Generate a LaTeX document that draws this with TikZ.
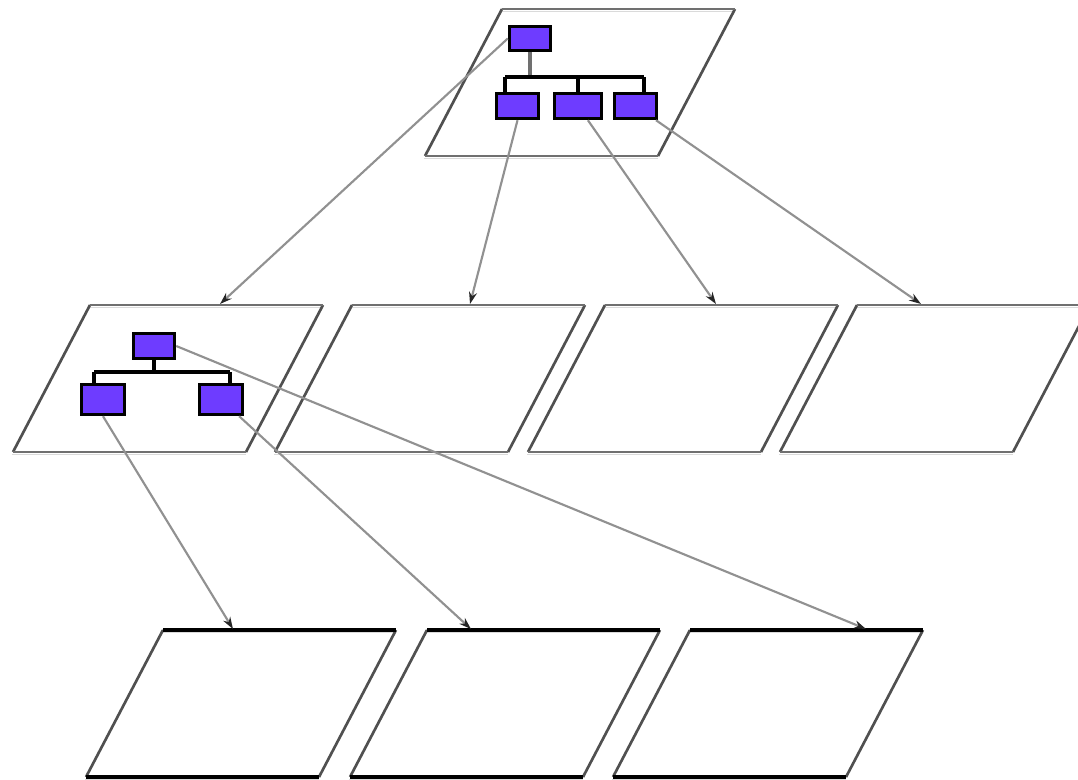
\documentclass[tikz,border=0pt]{standalone}
\usetikzlibrary{arrows.meta}
\definecolor{boxfill}{RGB}{110,60,255}
\definecolor{edgegray}{RGB}{112,112,112}
\definecolor{edgelight}{RGB}{218,218,218}
\definecolor{sidegray}{RGB}{80,80,80}
\definecolor{arrowgray}{RGB}{145,145,145}
\newcommand\myplane[3]{%
  \draw[lightedge] ({#1-1},{#2+2.6}) -- ({#1+233},{#2+2.6});
  \draw[lightedge] ({#1-78},{#2+149.6}) -- ({#1+156},{#2+149.6});
  \draw[sideline] (#1,#2) -- ({#1-77},{#2+147});
  \draw[sideline] ({#1+233},#2) -- ({#1+156},{#2+147});
  \draw[#3] (#1,#2) -- ({#1+233},#2);
  \draw[#3] ({#1-77},{#2+147}) -- ({#1+156},{#2+147});
}
\begin{document}
\begin{tikzpicture}[x=0.75pt,y=-0.75pt,
  lightedge/.style={draw=edgelight, line width=1.2pt},
  sideline/.style={draw=sidegray, line width=2pt},
  grayedge/.style={draw=edgegray, line width=2.1pt},
  blackedge/.style={draw=black, line width=2.4pt},
  unitbox/.style={draw=black, line width=2.6pt, fill=boxfill, inner sep=0pt},
  conn/.style={draw=black, line width=2.5pt},
  link/.style={draw=arrowgray, line width=1.6pt, -{Stealth[length=9pt,width=6pt,color=black!85]}}]
\useasboundingbox (0,0) rectangle (1078,779);
\clip (0,0) rectangle (1078,779);
% planes
\myplane{502}{9}{grayedge}
\myplane{90}{305}{grayedge}
\myplane{352}{305}{grayedge}
\myplane{605}{305}{grayedge}
\myplane{857}{305}{grayedge}
\myplane{163}{630}{blackedge}
\myplane{427}{630}{blackedge}
\myplane{690}{630}{blackedge}
% top tree
\node[unitbox, minimum width=30.75pt, minimum height=18pt] (r0) at (530,38.5) {};
\node[unitbox, minimum width=31.5pt, minimum height=18.75pt] (c1) at (517.5,106) {};
\node[unitbox, minimum width=35.25pt, minimum height=18.75pt] (c2) at (578,106) {};
\node[unitbox, minimum width=31.5pt, minimum height=18.75pt] (c3) at (635.5,106) {};
\coordinate (j0) at (530,77);
\coordinate (hl0) at (505,77);
\coordinate (hr0) at (644,77);
\draw[draw=edgegray, line width=2.4pt] (r0.south) -- (j0);
\draw[conn] (hl0) -- (hr0);
\draw[conn] (hl0) -- (hl0 |- c1.north);
\draw[conn] (hr0) -- (hr0 |- c3.north);
\draw[conn] (c2.north |- hl0) -- (c2.north);
% middle tree
\node[unitbox, minimum width=30.75pt, minimum height=18.75pt] (r1) at (154,346) {};
\node[unitbox, minimum width=32.25pt, minimum height=22.5pt] (d1) at (103,399.5) {};
\node[unitbox, minimum width=32.25pt, minimum height=22.5pt] (d2) at (221,399.5) {};
\coordinate (j1) at (154,372);
\coordinate (hl1) at (94,372);
\coordinate (hr1) at (230,372);
\draw[conn] (r1.south) -- (j1);
\draw[conn] (hl1) -- (hr1);
\draw[conn] (hl1) -- (hl1 |- d1.north);
\draw[conn] (hr1) -- (hr1 |- d2.north);
% arrow targets
\coordinate (t1) at (220,304);
\coordinate (t2) at (470,304);
\coordinate (t3) at (716,304);
\coordinate (t4) at (921,304);
\coordinate (b1) at (233,629);
\coordinate (b2) at (471,629);
\coordinate (b3) at (866,629);
% arrows
\draw[link] (r0.west) -- (t1);
\draw[link] (c1.south) -- (t2);
\draw[link] (c2) -- (t3);
\draw[link] (c3) -- (t4);
\draw[link] (r1.east) -- (b3);
\draw[link] (d1.south) -- (b1);
\draw[link] (d2) -- (b2);
\end{tikzpicture}
\end{document}
